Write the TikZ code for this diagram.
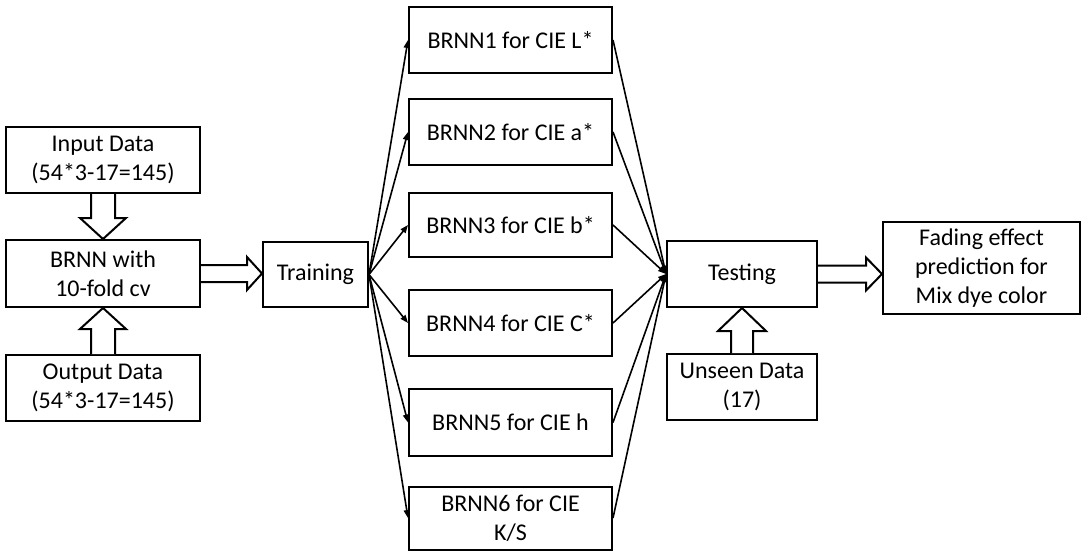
\documentclass[tikz,border=0pt]{standalone}
\usepackage{fontspec}
\setmainfont{Carlito}
\usetikzlibrary{arrows.meta,calc}

\tikzset{
  box/.style={draw=black, line width=2pt, fill=white, inner sep=0pt,
    align=center, font=\fontsize{24}{29}\selectfont},
  link/.style={draw=black, line width=1.6pt, -{Triangle[length=8pt,width=6pt]}},
  hollow/.style={draw=black, line width=2pt, fill=white, line join=miter}
}

\begin{document}
\begin{tikzpicture}[x=1pt, y=-1pt]
\useasboundingbox (0,0) rectangle (1082,552);

% left column: data and the cross-validated network
\node[box, minimum width=194pt, minimum height=66pt] (in) at (103,160) {Input Data\\(54*3-17=145)};
\node[box, minimum width=194pt, minimum height=67pt] (brnn) at (103,273.5) {BRNN with\\10-fold cv};
\node[box, minimum width=194pt, minimum height=66pt] (out) at (103,388) {Output Data\\(54*3-17=145)};

\node[box, minimum width=105pt, minimum height=65pt] (train) at (315.5,274.5) {Training};

% the six component networks
\node[box, minimum width=203pt, minimum height=66pt] (b1) at (510.5,40) {BRNN1 for CIE L*};
\node[box, minimum width=203pt, minimum height=66pt] (b2) at (510.5,132) {BRNN2 for CIE a*};
\node[box, minimum width=203pt, minimum height=64pt] (b3) at (510.5,225) {BRNN3 for CIE b*};
\node[box, minimum width=203pt, minimum height=66pt] (b4) at (510.5,323) {BRNN4 for CIE C*};
\node[box, minimum width=203pt, minimum height=67pt] (b5) at (510.5,422.5) {BRNN5 for CIE h};
\node[box, minimum width=203pt, minimum height=63pt] (b6) at (510.5,518) {BRNN6 for CIE\\K/S};

% testing and result
\node[box, minimum width=150pt, minimum height=66pt] (test) at (742,274) {Testing};
\node[box, minimum width=150pt, minimum height=66pt] (unseen) at (742,387) {Unseen Data\\(17)};
\node[box, minimum width=197pt, minimum height=92pt] (fade) at (981.5,268) {Fading effect\\prediction for\\Mix dye color};

% block arrows
\draw[hollow] ($(in.south)+(-12,0)$) -- ($(brnn.north)+(-12,-21)$) -- ++(-11,0)
  -- (brnn.north) -- ($(brnn.north)+(23,-21)$) -- ++(-11,0) -- ($(in.south)+(12,0)$);
\draw[hollow] ($(out.north)+(-12,0)$) -- ($(brnn.south)+(-12,21)$) -- ++(-11,0)
  -- (brnn.south) -- ($(brnn.south)+(23,21)$) -- ++(-11,0) -- ($(out.north)+(12,0)$);
\draw[hollow] ($(brnn.east)+(0,-8.5)$) -- ($(train.west |- brnn.east)+(-15,-8.5)$) -- ++(0,-8)
  -- (train.west |- brnn.east) -- ($(train.west |- brnn.east)+(-15,16.5)$) -- ++(0,-8)
  -- ($(brnn.east)+(0,8.5)$);
\draw[hollow] ($(test.east)+(0,-8.5)$) -- ($(fade.west |- test.east)+(-16,-8.5)$) -- ++(0,-8)
  -- (fade.west |- test.east) -- ($(fade.west |- test.east)+(-16,16.5)$) -- ++(0,-8)
  -- ($(test.east)+(0,8.5)$);
\draw[hollow] ($(unseen.north)+(-11,0)$) -- ($(test.south)+(-11,23)$) -- ++(-13,0)
  -- (test.south) -- ($(test.south)+(24,23)$) -- ++(-13,0) -- ($(unseen.north)+(11,0)$);

% fan-out from training, fan-in to testing
\foreach \b in {b1,b2,b3,b4,b5,b6}{
  \draw[link] (train.east) -- (\b.west);
  \draw[link] (\b.east) -- (test.west);
}
\end{tikzpicture}
\end{document}
